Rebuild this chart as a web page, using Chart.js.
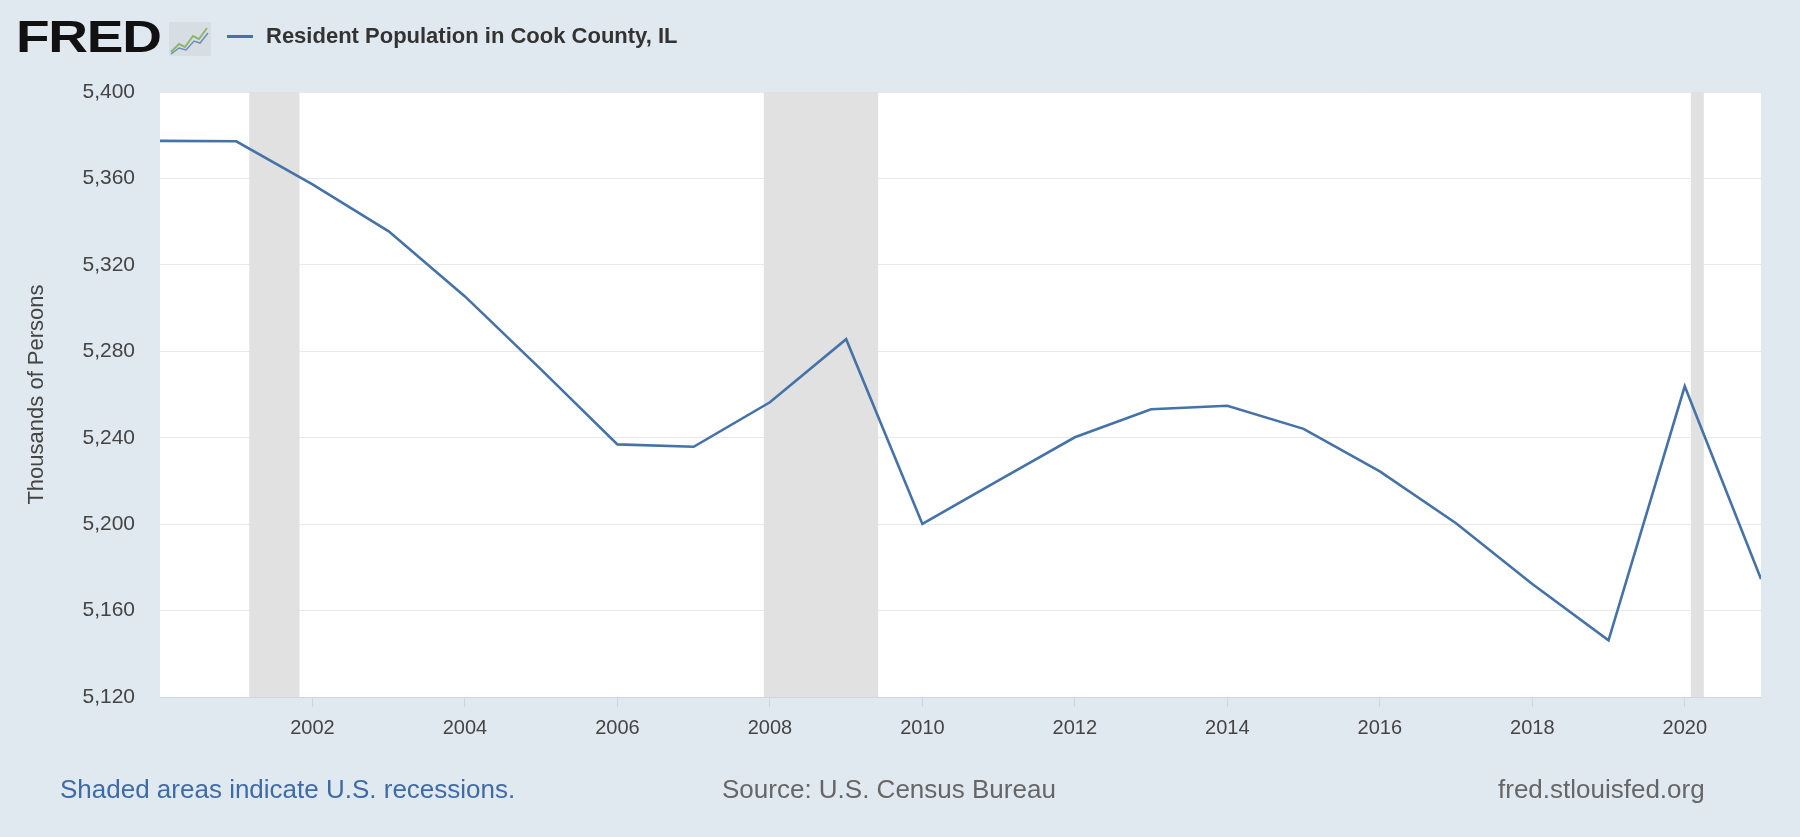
<!DOCTYPE html>
<html>
<head>
<meta charset="utf-8">
<script src="https://cdn.jsdelivr.net/npm/chart.js@4/dist/chart.umd.min.js"></script>
<style>
  html, body { margin: 0; padding: 0; background: #e1e9f0; }
  #wrap { position: relative; width: 1800px; height: 837px; overflow: hidden; font-family: "Liberation Sans", Arial, sans-serif; }
  #chart { position: absolute; left: 0; top: 0; }
  .logo { position: absolute; left: 16px; top: 12px; font: bold 44px "Liberation Sans", Arial, sans-serif; color: #111; letter-spacing: -1px; transform: scaleX(1.25); transform-origin: left top; }
  .icon { position: absolute; left: 169px; top: 22px; }
  .legline { position: absolute; left: 227px; top: 35px; width: 26px; height: 3px; background: #4572a7; }
  .title { position: absolute; left: 266px; top: 23px; font: bold 22px "Liberation Sans", Arial, sans-serif; color: #333; }
  .foot { position: absolute; top: 774px; font-size: 26px; color: #666; }
</style>
</head>
<body>
<div id="wrap">
  <canvas id="chart" width="1800" height="837"></canvas>
  <div class="logo">FRED</div>
  <svg class="icon" width="42" height="34" viewBox="0 0 42 34">
    <rect x="0" y="0" width="42" height="34" fill="#d6dde3"/>
    <polyline points="2,30 10,22 16,25 24,14 30,17 38,6" fill="none" stroke="#8fb86b" stroke-width="2"/>
    <polyline points="2,32 10,26 17,28 25,19 31,21 39,11" fill="none" stroke="#6f8fb8" stroke-width="1.5"/>
  </svg>
  <div class="legline"></div>
  <div class="title">Resident Population in Cook County, IL</div>
  <div class="foot" style="left:60px;color:#3e6ba6;">Shaded areas indicate U.S. recessions.</div>
  <div class="foot" style="left:722px;">Source: U.S. Census Bureau</div>
  <div class="foot" style="left:1498px;">fred.stlouisfed.org</div>
</div>
<script>
const years = [2000, 2001, 2002, 2003, 2004, 2005, 2006, 2007, 2008, 2009, 2010,
  2011, 2012, 2013, 2014, 2015, 2016, 2017, 2018, 2019, 2020, 2021];
const population = [5377.4, 5377.2, 5357.2, 5335.5, 5305.4, 5271.5, 5236.9, 5235.8, 5256.4, 5285.6, 5200.1,
  5220.3, 5240.2, 5253.2, 5254.8, 5244.1, 5224.4, 5200.4, 5172.3, 5146.2, 5263.8, 5174.6];
const xTickYears = [2002, 2004, 2006, 2008, 2010, 2012, 2014, 2016, 2018, 2020];
const recessionStart = [2001.17, 2007.92, 2020.08];
const recessionEnd = [2001.83, 2009.42, 2020.25];

const recessionBands = {
  id: "recessionBands",
  beforeDatasetsDraw(chart) {
    const { ctx, chartArea, scales } = chart;
    ctx.save();
    ctx.fillStyle = "#e1e1e1";
    recessionStart.forEach((s, i) => {
      const x1 = Math.max(scales.x.getPixelForValue(s), chartArea.left);
      const x2 = Math.min(scales.x.getPixelForValue(recessionEnd[i]), chartArea.right);
      ctx.fillRect(x1, chartArea.top, x2 - x1, chartArea.bottom - chartArea.top);
    });
    ctx.restore();
  },
};

const plotBg = {
  id: "plotBg",
  beforeDraw(chart) {
    const { ctx, chartArea } = chart;
    ctx.save();
    ctx.fillStyle = "#ffffff";
    ctx.fillRect(chartArea.left, chartArea.top, chartArea.right - chartArea.left, chartArea.bottom - chartArea.top);
    ctx.restore();
  },
};

new Chart(document.getElementById("chart"), {
  type: "line",
  data: {
    datasets: [
      {
        label: "Resident Population in Cook County, IL",
        data: years.map((y, i) => ({ x: y, y: population[i] })),
        borderColor: "#4572a7",
        borderWidth: 2.6,
        pointRadius: 0,
        tension: 0,
      },
    ],
  },
  options: {
    responsive: false,
    animation: false,
    plugins: {
      legend: { display: false },
      tooltip: { enabled: false },
    },
    layout: {
      padding: { top: 92, right: 39, left: 0, bottom: 0 },
    },
    scales: {
      x: {
        type: "linear",
        min: 2000,
        max: 2021,
        afterBuildTicks: (scale) => {
          scale.ticks = xTickYears.map((v) => ({ value: v }));
        },
        afterFit: (scale) => {
          scale.height = 140;
        },
        grid: {
          drawOnChartArea: false,
          drawTicks: true,
          tickLength: 10,
          color: "#ccd6eb",
        },
        border: { display: true, color: "#ccd6eb" },
        ticks: {
          padding: 9,
          maxRotation: 0,
          color: "#444",
          font: { family: "'Liberation Sans', Arial, sans-serif", size: 20 },
          callback: (v) => String(v),
        },
      },
      y: {
        min: 5120,
        max: 5400,
        afterFit: (scale) => {
          scale.width = 160;
        },
        grid: {
          color: "#e8e8e8",
          drawTicks: false,
        },
        border: { display: false },
        ticks: {
          stepSize: 40,
          padding: 25,
          color: "#444",
          font: { family: "'Liberation Sans', Arial, sans-serif", size: 21 },
          callback: (v) => v.toLocaleString("en-US"),
        },
        title: {
          display: true,
          text: "Thousands of Persons",
          color: "#444",
          padding: { top: 24, bottom: 0 },
          font: { family: "'Liberation Sans', Arial, sans-serif", size: 22 },
        },
      },
    },
  },
  plugins: [plotBg, recessionBands],
});
</script>
</body>
</html>
